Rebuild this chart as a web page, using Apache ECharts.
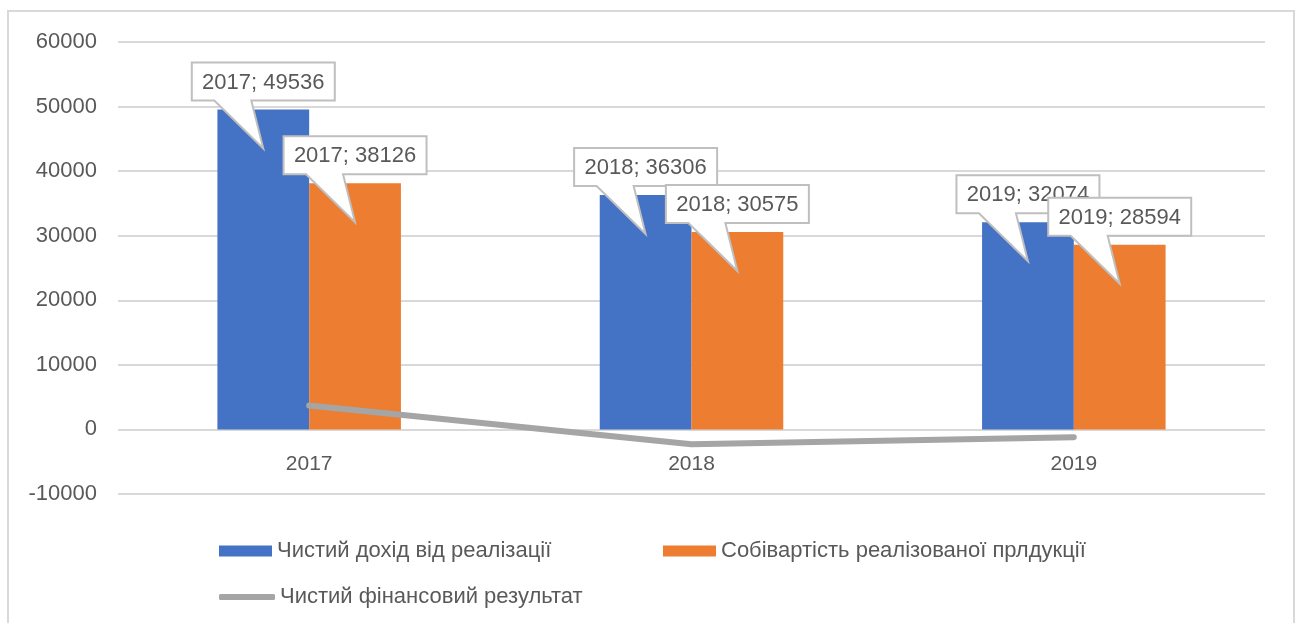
<!DOCTYPE html>
<html>
<head>
<meta charset="utf-8">
<script src="https://cdn.jsdelivr.net/npm/echarts@6/dist/echarts.min.js"></script>
<style>html,body{margin:0;padding:0;background:#fff;}#main{width:1301px;height:623px;}</style>
</head>
<body>
<div id="main"></div>
<script>
var categories = ['2017', '2018', '2019'];
var revenue = [49536, 36306, 32074];
var cost = [38126, 30575, 28594];
var result = [3700, -2300, -1200];
var seriesNames = ['Чистий дохід від реалізації', 'Собівартість реалізованої прлдукції', 'Чистий фінансовий результат'];
var yTicks = {min: -10000, max: 60000, interval: 10000};

var FONT = '"Liberation Sans", Arial, sans-serif';
var TXT = '#595959';
var BAR_FRAC = 0.24; // bar width as fraction of category band

function calloutRender(values, side) {
  return function (params, api) {
    var idx = params.dataIndex;
    var v = values[idx];
    var band = api.size([1, 0])[0];
    var bw = band * BAR_FRAC;
    var base = api.coord([idx, v]);
    var cx = base[0] + side * bw / 2;
    var top = base[1];
    var w = 143, h = 38;
    var B = top - 9, T = B - h, L = cx - w / 2, R = cx + w / 2;
    var tipX = cx, tipY = top + 39;
    var p1 = cx - 49, p2 = cx - 12;
    var pts = [[L, T], [R, T], [R, B], [p2, B], [tipX, tipY], [p1, B], [L, B]];
    return {
      type: 'group',
      children: [
        {type: 'polygon', shape: {points: pts}, style: {fill: '#fff', stroke: '#bfbfbf', lineWidth: 2}},
        {type: 'text', style: {text: categories[idx] + '; ' + v, x: cx, y: (T + B) / 2 + 1, align: 'center', verticalAlign: 'middle', fill: TXT, font: '22px ' + FONT}}
      ]
    };
  };
}

var legendText = {fontSize: 22, color: TXT, fontFamily: FONT};
var chart = echarts.init(document.getElementById('main'));
chart.setOption({
  animation: false,
  backgroundColor: '#fff',
  graphic: [{type: 'rect', shape: {x: 8, y: 11, width: 1286, height: 640}, style: {fill: 'none', stroke: '#d9d9d9', lineWidth: 2}, silent: true}],
  grid: {left: 118, right: 36, top: 42, bottom: 129},
  legend: [
    {data: [seriesNames[0]], left: 214, top: 535, itemWidth: 53, itemHeight: 11, icon: 'rect', textStyle: legendText},
    {data: [seriesNames[1]], left: 658, top: 535, itemWidth: 53, itemHeight: 11, icon: 'rect', textStyle: legendText},
    {data: [seriesNames[2]], left: 214, top: 581, itemWidth: 56, itemHeight: 6, icon: 'roundRect', textStyle: legendText}
  ],
  xAxis: {
    type: 'category', data: categories,
    axisLine: {show: false, onZero: false},
    offset: -65,
    axisTick: {show: false},
    axisLabel: {color: TXT, fontSize: 21, fontFamily: FONT, margin: 25}
  },
  yAxis: {
    type: 'value', min: yTicks.min, max: yTicks.max, interval: yTicks.interval,
    axisLine: {show: false}, axisTick: {show: false},
    axisLabel: {color: TXT, fontSize: 22, fontFamily: FONT, margin: 21, formatter: function (v) { return String(v); }},
    splitLine: {lineStyle: {color: '#d9d9d9', width: 2}}
  },
  series: [
    {name: seriesNames[0], type: 'bar', data: revenue, barGap: '0%', barCategoryGap: '52%', itemStyle: {color: '#4472c4'}, z: 2},
    {name: seriesNames[1], type: 'bar', data: cost, barGap: '0%', barCategoryGap: '52%', itemStyle: {color: '#ed7d31'}, z: 2},
    {name: seriesNames[2], type: 'line', data: result, symbol: 'none', showSymbol: false, z: 3,
     lineStyle: {color: '#a5a5a5', width: 6, cap: 'round', join: 'round'}, itemStyle: {color: '#a5a5a5'}},
    {type: 'custom', data: revenue.map(function (v, i) { return [i, v]; }), renderItem: calloutRender(revenue, -1), z: 10, silent: true},
    {type: 'custom', data: cost.map(function (v, i) { return [i, v]; }), renderItem: calloutRender(cost, 1), z: 11, silent: true}
  ]
});
</script>
</body>
</html>
